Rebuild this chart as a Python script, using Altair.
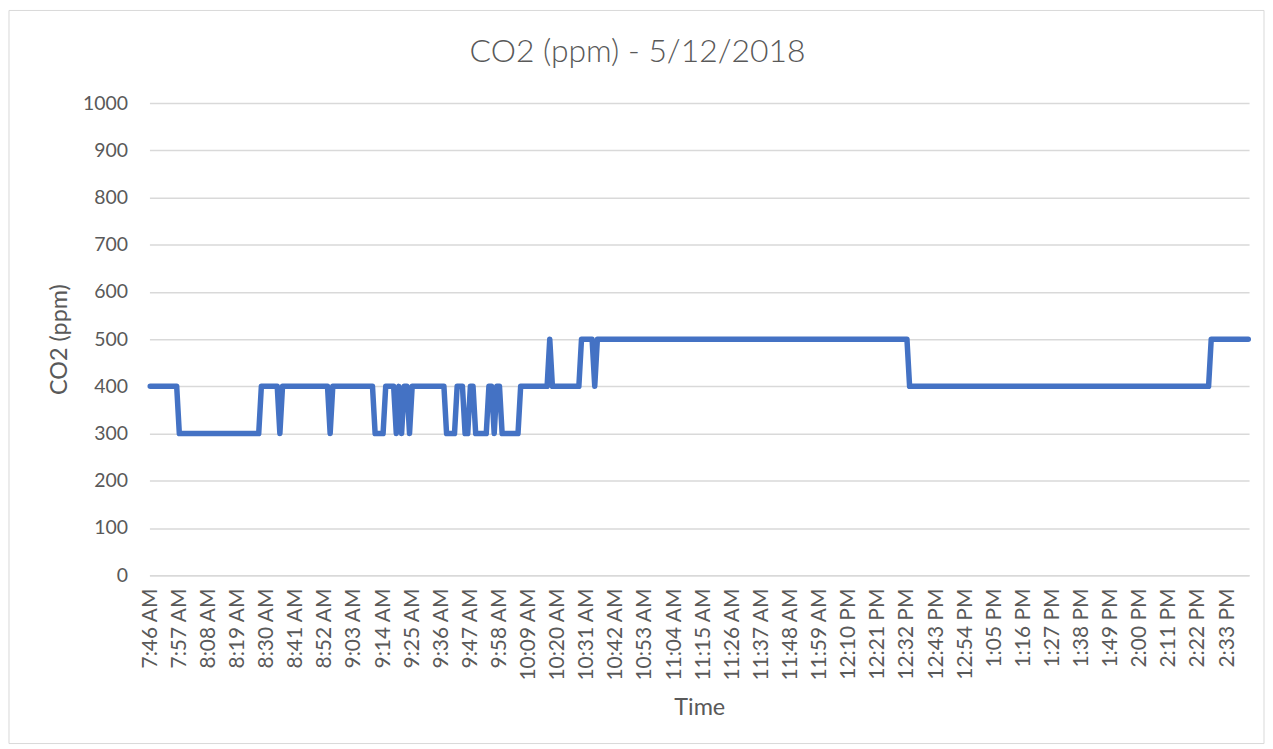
import altair as alt
import pandas as pd

# ---- data ----
chart_title = "CO2 (ppm) - 5/12/2018"
x_title = "Time"
y_title = "CO2 (ppm)"

# x-axis tick labels shown (every 11th minute)
tick_labels = [
    "7:46 AM", "7:57 AM", "8:08 AM", "8:19 AM", "8:30 AM", "8:41 AM", "8:52 AM",
    "9:03 AM", "9:14 AM", "9:25 AM", "9:36 AM", "9:47 AM", "9:58 AM", "10:09 AM",
    "10:20 AM", "10:31 AM", "10:42 AM", "10:53 AM", "11:04 AM", "11:15 AM",
    "11:26 AM", "11:37 AM", "11:48 AM", "11:59 AM", "12:10 PM", "12:21 PM",
    "12:32 PM", "12:43 PM", "12:54 PM", "1:05 PM", "1:16 PM", "1:27 PM",
    "1:38 PM", "1:49 PM", "2:00 PM", "2:11 PM", "2:22 PM", "2:33 PM",
]

y_ticks = [0, 100, 200, 300, 400, 500, 600, 700, 800, 900, 1000]

# CO2 readings, one per minute; each row starts at the tick label of the same index
co2_rows = [
    [400, 400, 400, 400, 400, 400, 400, 400, 400, 400, 400],  # 7:46 AM
    [300, 300, 300, 300, 300, 300, 300, 300, 300, 300, 300],  # 7:57 AM
    [300, 300, 300, 300, 300, 300, 300, 300, 300, 300, 300],  # 8:08 AM
    [300, 300, 300, 300, 300, 300, 300, 300, 300, 400, 400],  # 8:19 AM
    [400, 400, 400, 400, 400, 300, 400, 400, 400, 400, 400],  # 8:30 AM
    [400, 400, 400, 400, 400, 400, 400, 400, 400, 400, 400],  # 8:41 AM
    [400, 400, 300, 400, 400, 400, 400, 400, 400, 400, 400],  # 8:52 AM
    [400, 400, 400, 400, 400, 400, 400, 400, 300, 300, 300],  # 9:03 AM
    [300, 400, 400, 400, 400, 300, 400, 300, 400, 400, 300],  # 9:14 AM
    [400, 400, 400, 400, 400, 400, 400, 400, 400, 400, 400],  # 9:25 AM
    [400, 400, 300, 300, 300, 300, 400, 400, 400, 300, 300],  # 9:36 AM
    [400, 400, 300, 300, 300, 300, 300, 400, 400, 300, 400],  # 9:47 AM
    [400, 300, 300, 300, 300, 300, 300, 300, 400, 400, 400],  # 9:58 AM
    [400, 400, 400, 400, 400, 400, 400, 400, 500, 400, 400],  # 10:09 AM
    [400, 400, 400, 400, 400, 400, 400, 400, 400, 500, 500],  # 10:20 AM
    [500, 500, 500, 400, 500, 500, 500, 500, 500, 500, 500],  # 10:31 AM
    [500, 500, 500, 500, 500, 500, 500, 500, 500, 500, 500],  # 10:42 AM
    [500, 500, 500, 500, 500, 500, 500, 500, 500, 500, 500],  # 10:53 AM
    [500, 500, 500, 500, 500, 500, 500, 500, 500, 500, 500],  # 11:04 AM
    [500, 500, 500, 500, 500, 500, 500, 500, 500, 500, 500],  # 11:15 AM
    [500, 500, 500, 500, 500, 500, 500, 500, 500, 500, 500],  # 11:26 AM
    [500, 500, 500, 500, 500, 500, 500, 500, 500, 500, 500],  # 11:37 AM
    [500, 500, 500, 500, 500, 500, 500, 500, 500, 500, 500],  # 11:48 AM
    [500, 500, 500, 500, 500, 500, 500, 500, 500, 500, 500],  # 11:59 AM
    [500, 500, 500, 500, 500, 500, 500, 500, 500, 500, 500],  # 12:10 PM
    [500, 500, 500, 500, 500, 500, 500, 500, 500, 500, 500],  # 12:21 PM
    [500, 400, 400, 400, 400, 400, 400, 400, 400, 400, 400],  # 12:32 PM
    [400, 400, 400, 400, 400, 400, 400, 400, 400, 400, 400],  # 12:43 PM
    [400, 400, 400, 400, 400, 400, 400, 400, 400, 400, 400],  # 12:54 PM
    [400, 400, 400, 400, 400, 400, 400, 400, 400, 400, 400],  # 1:05 PM
    [400, 400, 400, 400, 400, 400, 400, 400, 400, 400, 400],  # 1:16 PM
    [400, 400, 400, 400, 400, 400, 400, 400, 400, 400, 400],  # 1:27 PM
    [400, 400, 400, 400, 400, 400, 400, 400, 400, 400, 400],  # 1:38 PM
    [400, 400, 400, 400, 400, 400, 400, 400, 400, 400, 400],  # 1:49 PM
    [400, 400, 400, 400, 400, 400, 400, 400, 400, 400, 400],  # 2:00 PM
    [400, 400, 400, 400, 400, 400, 400, 400, 400, 400, 400],  # 2:11 PM
    [400, 400, 400, 400, 400, 500, 500, 500, 500, 500, 500],  # 2:22 PM
    [500, 500, 500, 500, 500, 500, 500, 500, 500],            # 2:33 PM
]

start_minutes = 7 * 60 + 46  # 7:46 AM


def clock_label(total_minutes):
    h, m = divmod(total_minutes, 60)
    suffix = "AM" if h < 12 else "PM"
    h12 = h % 12 or 12
    return f"{h12}:{m:02d} {suffix}"


co2_values = [v for row in co2_rows for v in row]
times = [clock_label(start_minutes + i) for i in range(len(co2_values))]
df = pd.DataFrame({"time": times, "co2": co2_values})

FONT = "Lato"
GREY = "#595959"
GRID = "#d9d9d9"
W, H = 1104, 474

line = alt.Chart(df).mark_line(
    color="#4472C4", strokeWidth=5.5, strokeCap="round", strokeJoin="round"
).encode(
    x=alt.X(
        "time:O",
        sort=None,
        scale=alt.Scale(padding=0.3),
        axis=alt.Axis(
            values=tick_labels,
            labelAngle=270,
            labelFontSize=21,
            labelColor=GREY,
            labelPadding=13,
            labelOverlap=False,
            ticks=False,
            tickSize=0,
            grid=False,
            domainColor=GRID,
            domainWidth=1.5,
            title=x_title,
            titleFontSize=23.5,
            titleFontWeight="normal",
            titleColor=GREY,
            titlePadding=15,
        ),
    ),
    y=alt.Y(
        "co2:Q",
        scale=alt.Scale(domain=[0, 1000], nice=False),
        axis=alt.Axis(
            values=y_ticks,
            format="d",
            labelFontSize=19.5,
            labelColor=GREY,
            labelPadding=22,
            ticks=False,
            tickSize=0,
            domain=False,
            gridColor=GRID,
            gridWidth=1.5,
            title=y_title,
            titleFontSize=23.5,
            titleFontWeight="normal",
            titleColor=GREY,
            titlePadding=11,
        ),
    ),
)

deco = alt.Chart(pd.DataFrame({"k": [0]}))

frame = deco.mark_rect(
    fillOpacity=0, stroke=GRID, strokeWidth=1
).encode(
    x=alt.value(-141), x2=alt.value(1119),
    y=alt.value(-93), y2=alt.value(643),
)

title_text = deco.mark_text(
    text=chart_title,
    font=FONT,
    fontSize=32,
    fontWeight=300,
    color=GREY,
    align="center",
    baseline="middle",
).encode(
    x=alt.value(490), y=alt.value(-51),
)

chart = alt.layer(frame, title_text, line).properties(
    width=W,
    height=H,
    padding=0,
).configure(font=FONT).configure_view(strokeWidth=0)

chart.save("out.html", embed_options={"renderer": "svg", "actions": False})
